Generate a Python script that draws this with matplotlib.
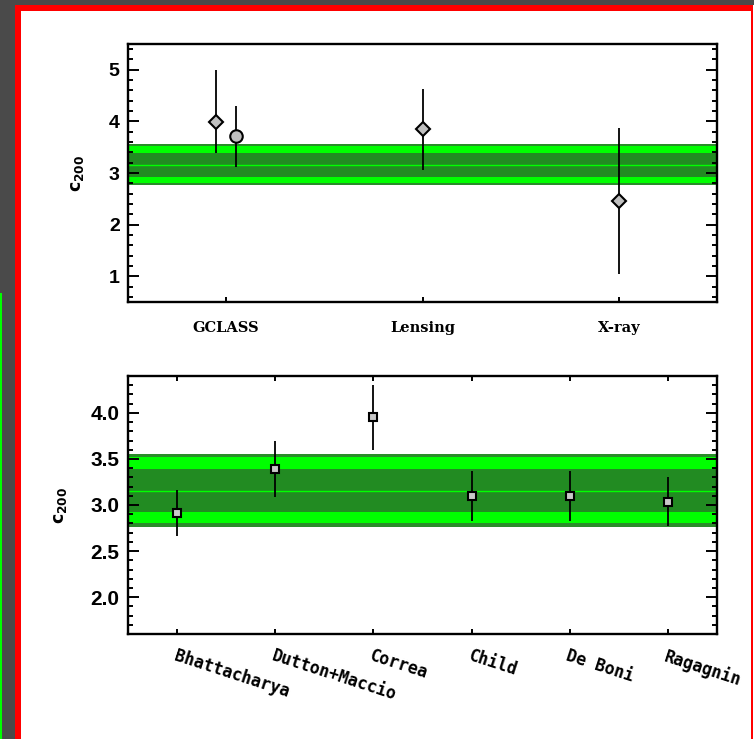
import matplotlib.pyplot as plt
from matplotlib.patches import Rectangle
from matplotlib.ticker import MultipleLocator

# Observed concentrations (top panel)
obs_labels = ["GCLASS", "Lensing", "X-ray"]
obs_x = [0.95, 1.05, 2.0, 3.0]
obs_c = [3.99, 3.72, 3.85, 2.45]
obs_lo = [3.39, 3.12, 3.05, 1.04]
obs_hi = [4.99, 4.30, 4.63, 3.87]
obs_marker = ["D", "o", "D", "D"]
obs_size = [7, 9, 7, 7]

# Concentration-mass relations (bottom panel)
rel_labels = ["Bhattacharya", "Dutton+Maccio", "Correa", "Child", "De Boni", "Ragagnin"]
rel_c = [2.91, 3.39, 3.95, 3.10, 3.10, 3.035]
rel_lo = [2.66, 3.09, 3.60, 2.83, 2.83, 2.77]
rel_hi = [3.16, 3.69, 4.30, 3.37, 3.37, 3.30]

# Combined constraint band
band_center = 3.15
band_1sig = (2.925, 3.39)
band_2sig = (2.80, 3.52)
band_3sig = (2.765, 3.555)

W, H = 754, 739
fig = plt.figure(figsize=(W / 100, H / 100), dpi=100)
fig.patch.set_facecolor("white")


def px_rect(x0, y0, x1, y1, color):
    # rectangle given in pixel coords measured from the top-left corner
    fig.add_artist(Rectangle((x0 / W, 1 - y1 / H), (x1 - x0) / W, (y1 - y0) / H,
                             transform=fig.transFigure, facecolor=color,
                             edgecolor="none", zorder=-10))


# window frame around the plot
px_rect(0, 0, W, 5, "#4a4a4a")
px_rect(0, 0, 15, H, "#4a4a4a")
px_rect(0, 293, 2, H, "#00ff00")
px_rect(15, 5, 21, H, "#ff0000")
px_rect(15, 5, 753, 11, "#ff0000")
px_rect(751, 5, 753, H, "#ff0000")

ax1 = fig.add_axes([128 / W, 1 - 302 / H, 589 / W, 258 / H])
ax2 = fig.add_axes([128 / W, 1 - 634 / H, 589 / W, 258 / H])


def draw_band(ax):
    ax.axhspan(*band_3sig, color="#2a8c2a", lw=0, zorder=1)
    ax.axhspan(*band_2sig, color="#00ff00", lw=0, zorder=1)
    ax.axhspan(*band_1sig, color="#228b22", lw=0, zorder=1)
    ax.axhline(band_center, color="#00ff00", lw=1.0, zorder=1)


def style_axis(ax, size):
    for s in ax.spines.values():
        s.set_linewidth(1.7)
        s.set_zorder(5)
    ax.tick_params(axis="y", which="major", direction="in", length=8, width=1.4,
                   left=True, right=True, pad=6)
    ax.tick_params(axis="y", which="minor", direction="in", length=3.6, width=1.4,
                   left=True, right=True)
    for lab in ax.get_yticklabels():
        lab.set_fontfamily("Liberation Sans")
        lab.set_fontweight("bold")
        lab.set_fontsize(size)


# top panel
draw_band(ax1)
for x, c, lo, hi, m, s in zip(obs_x, obs_c, obs_lo, obs_hi, obs_marker, obs_size):
    ax1.errorbar(x, c, yerr=[[c - lo], [hi - c]], fmt=m, ms=s, mfc="#c0c0c0",
                 mec="black", mew=1.5, ecolor="black", elinewidth=1.3, capsize=0,
                 zorder=3)
ax1.set_xlim(0.5, 3.5)
ax1.set_ylim(0.5, 5.5)
ax1.set_xticks([1, 2, 3])
ax1.set_xticklabels(obs_labels, family="DejaVu Serif", fontweight="bold", fontsize=10.5)
ax1.tick_params(axis="x", direction="in", length=3.6, width=1.4, top=False, pad=14)
ax1.yaxis.set_major_locator(MultipleLocator(1))
ax1.yaxis.set_minor_locator(MultipleLocator(0.2))
style_axis(ax1, 14)
ax1.set_ylabel(r"$\mathbf{c_{200}}$", fontsize=12.5)
ax1.yaxis.set_label_coords(-0.072, 0.5)

# bottom panel
draw_band(ax2)
rel_x = list(range(1, len(rel_labels) + 1))
for x, c, lo, hi in zip(rel_x, rel_c, rel_lo, rel_hi):
    ax2.errorbar(x, c, yerr=[[c - lo], [hi - c]], fmt="s", ms=5.5, mfc="#c8c8c8",
                 mec="black", mew=1.5, ecolor="black", elinewidth=1.3, capsize=0,
                 zorder=3)
ax2.set_xlim(0.5, 6.5)
ax2.set_ylim(1.6, 4.4)
ax2.set_xticks(rel_x)
ax2.set_xticklabels(rel_labels, family="DejaVu Sans Mono", fontweight="bold",
                    fontsize=12, rotation=-18, ha="left", va="top",
                    rotation_mode="anchor")
ax2.tick_params(axis="x", direction="in", length=3.6, width=1.4, top=True, pad=9)
ax2.yaxis.set_major_locator(MultipleLocator(0.5))
ax2.yaxis.set_minor_locator(MultipleLocator(0.1))
ax2.set_yticks([2.0, 2.5, 3.0, 3.5, 4.0])
ax2.set_yticklabels(["2.0", "2.5", "3.0", "3.5", "4.0"])
style_axis(ax2, 15)
ax2.set_ylabel(r"$\mathbf{c_{200}}$", fontsize=12.5)
ax2.yaxis.set_label_coords(-0.1, 0.5)

fig.savefig("out.png", dpi=100, facecolor=fig.get_facecolor())
